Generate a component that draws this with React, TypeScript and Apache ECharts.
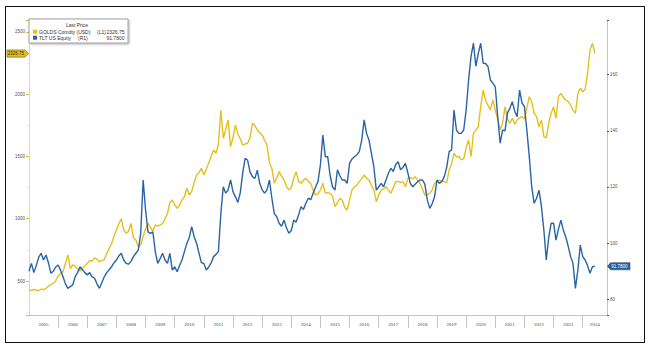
import React, { useEffect, useRef } from 'react';
import * as echarts from 'echarts';

const START_YEAR = 2005;
const AXIS_MONTHS = 239; // Jan 2005 .. Nov 2024 (axis extent)
const GOLD_NAME = 'GOLDS Comdty (USD)';
const TLT_NAME = 'TLT US Equity';
const GOLD_AXIS = '(L1)';
const TLT_AXIS = '(R1)';
const GOLD_LAST = 2326.75;
const TLT_LAST = 91.78;
const GOLD_LAST_LABEL = '2326.75';
const TLT_LAST_LABEL = '91.7800';
const LEGEND_TITLE = 'Last Price';

// Monthly gold price (USD), Jan 2005 .. Jun 2024
const GOLD = [
  428, 425, 432, 427, 422, 435, 430, 440, 460, 470, 482, 500,
  540, 560, 575, 640, 709, 600, 630, 620, 595, 580, 600, 625,
  640, 665, 660, 685, 675, 655, 665, 670, 720, 763, 800, 860,
  910, 960, 1000, 910, 883, 900, 963, 850, 830, 775, 789, 860,
  920, 963, 930, 900, 950, 940, 950, 960, 1000, 1040, 1130, 1150,
  1110, 1084, 1110, 1150, 1177, 1245, 1190, 1220, 1290, 1351, 1370, 1405,
  1351, 1400, 1445, 1500, 1552, 1526, 1600, 1873, 1646, 1720, 1793, 1579,
  1650, 1753, 1680, 1640, 1592, 1600, 1606, 1650, 1767, 1750, 1713, 1690,
  1673, 1630, 1592, 1450, 1405, 1285, 1330, 1378, 1340, 1311, 1260, 1231,
  1250, 1325, 1378, 1300, 1285, 1310, 1325, 1300, 1285, 1230, 1190, 1200,
  1231, 1285, 1204, 1210, 1204, 1180, 1097, 1130, 1164, 1150, 1090, 1070,
  1151, 1230, 1257, 1270, 1298, 1320, 1351, 1325, 1311, 1270, 1231, 1137,
  1190, 1231, 1240, 1257, 1230, 1204, 1250, 1298, 1300, 1290, 1298, 1257,
  1325, 1330, 1320, 1338, 1310, 1285, 1240, 1191, 1195, 1204, 1230, 1285,
  1300, 1311, 1300, 1298, 1290, 1392, 1440, 1526, 1498, 1500, 1472, 1480,
  1570, 1633, 1498, 1686, 1710, 1739, 1900, 2034, 1950, 1910, 1873, 1954,
  1870, 1800, 1713, 1767, 1900, 1800, 1767, 1807, 1760, 1793, 1810, 1820,
  1800, 1890, 1980, 1940, 1847, 1820, 1739, 1793, 1659, 1650, 1767, 1847,
  1900, 1807, 1980, 2007, 1975, 1954, 1940, 1914, 1870, 1847, 2007, 2048,
  2020, 2040, 2168, 2355, 2409, 2326.75,
];

// Monthly TLT price, Jan 2005 .. Jun 2024
const TLT = [
  90, 92.8, 89.5, 92, 95, 96.4, 94, 95.8, 93, 89.3, 90, 91.5,
  92.2, 90.4, 88, 85.5, 83.9, 84.5, 85.1, 88, 89.5, 91.6, 90.5, 89.5,
  88.7, 89.5, 88, 87.5, 85.5, 83.9, 86, 88, 89.5, 90.5, 91.6, 93,
  94, 95.5, 96.4, 94, 92.8, 92.5, 93.5, 95.2, 96.4, 97.5, 103.5, 122.5,
  111.8, 104, 103.5, 104, 97, 92.8, 94.5, 96.4, 94, 92.8, 96.4, 90.4,
  91.6, 89.8, 92, 94, 97, 99.9, 102, 105.9, 102.3, 100, 96.4, 93,
  92.8, 90.4, 91.5, 93, 95.2, 96, 97, 110.6, 120.1, 117.8, 119, 122.5,
  118.3, 116.5, 114.5, 118, 125, 130.2, 129.6, 125.4, 123.7, 123, 126, 121.3,
  119, 117.8, 119, 122.5, 116, 110.5, 109.4, 107.1, 106, 108.2, 105.5, 103.5,
  104.5, 108.2, 107.5, 110, 113, 112, 114.2, 116, 115.5, 117.8, 120, 121.9,
  128, 138.5, 130.8, 130.8, 124, 120, 118.9, 126.1, 124, 122.5, 122.5, 121.3,
  128.4, 130, 130.8, 131.5, 132.6, 136.7, 143.9, 139.1, 136.7, 132, 127.2, 118.9,
  120, 121.3, 120.1, 122.5, 124.9, 126.7, 125.5, 128, 129, 126.1, 127, 128.4,
  125, 121.3, 120.1, 121, 121.9, 122.5, 122.5, 121, 115.4, 112.4, 114, 116.5,
  122.5, 121.3, 122, 123.7, 127, 132.6, 133.2, 147.4, 140.3, 139.1, 139.1, 140.3,
  147.4, 158, 166.4, 171.2, 163, 167.6, 171.2, 164.1, 164, 162.9, 158.1, 157,
  155.7, 145, 135.6, 140.3, 140, 146.3, 148, 150.4, 147, 145, 154.5, 150,
  148.6, 140.3, 130.8, 120.1, 114.2, 116, 118.9, 113, 104.7, 94, 102, 107.1,
  107.1, 101.1, 105, 108.2, 104.7, 102.3, 99, 95.2, 92.8, 83.9, 90.4, 99.3,
  95.2, 94, 92, 89.3, 91.6, 91.78,
];

const MONTHS = Array.from({ length: AXIS_MONTHS }, (_, i) =>
  `${START_YEAR + Math.floor(i / 12)}-${String((i % 12) + 1).padStart(2, '0')}`
);

const GOLD_COLOR = '#e4c01e';
const TLT_COLOR = '#2964a6';
const FONT = 'Liberation Sans';

export default function App() {
  const ref = useRef<HTMLDivElement>(null);
  useEffect(() => {
    if (!ref.current) return;
    const chart = echarts.init(ref.current, undefined, { renderer: 'svg' });
    chart.setOption({
      animation: false,
      backgroundColor: '#ffffff',
      grid: { left: 29, top: 20, width: 578, height: 295, outerBoundsMode: 'none' },
      xAxis: {
        type: 'category',
        data: MONTHS,
        boundaryGap: false,
        axisLine: { show: true, lineStyle: { color: '#b9c6d3', width: 1 } },
        axisTick: {
          show: true,
          length: 13,
          interval: (i: number) => i % 12 === 0 && i > 0,
          lineStyle: { color: '#c4c4c4', width: 1 },
        },
        axisLabel: {
          interval: (i: number, v: string) =>
            (v.endsWith('-07') && !v.startsWith('2024')) || v === '2024-06',
          formatter: (v: string) => v.slice(0, 4),
          fontFamily: 'Liberation Serif',
          fontSize: 5,
          color: '#444',
          margin: 7,
        },
        splitLine: { show: false },
      },
      yAxis: [
        {
          type: 'value',
          position: 'left',
          min: 227,
          max: 2596,
          axisLine: { show: true, lineStyle: { color: '#eedb86', width: 1 } },
          axisTick: { show: true, length: 3, lineStyle: { color: '#e2c22a' } },
          minorTick: { show: true, splitNumber: 2, length: 2, lineStyle: { color: '#f2e8bb' } },
          axisLabel: {
            fontFamily: FONT,
            fontSize: 4.5,
            color: '#555',
            margin: 4,
            formatter: (v: number) => (v % 500 === 0 ? String(v) : ''),
          },
          splitLine: { show: false },
        },
        {
          type: 'value',
          position: 'right',
          min: 74.41,
          max: 179.48,
          axisLine: { show: true, lineStyle: { color: '#b3c7dc', width: 1 } },
          axisTick: { show: true, length: 2, lineStyle: { color: '#2964a6' } },
          axisLabel: {
            fontFamily: FONT,
            fontSize: 4.5,
            color: '#555',
            margin: 3,
            formatter: (v: number) => (Math.abs(v % 20) < 1e-6 ? String(v) : ''),
          },
          splitLine: { show: false },
        },
      ],
      series: [
        {
          type: 'line',
          name: GOLD_NAME,
          yAxisIndex: 0,
          data: GOLD,
          showSymbol: false,
          lineStyle: { color: GOLD_COLOR, width: 1.4 },
          itemStyle: { color: GOLD_COLOR },
        },
        {
          type: 'line',
          name: TLT_NAME,
          yAxisIndex: 1,
          data: TLT,
          showSymbol: false,
          lineStyle: { color: TLT_COLOR, width: 1.4 },
          itemStyle: { color: TLT_COLOR },
        },
      ],
    });

    const gy = chart.convertToPixel({ yAxisIndex: 0 }, GOLD_LAST) as number;
    const ty = chart.convertToPixel({ yAxisIndex: 1 }, TLT_LAST) as number;
    const txt = (x: number, y: number, text: string, align: string, fill = '#333', size = 5) => ({
      type: 'text',
      x,
      y,
      style: { text, fill, fontSize: size, fontFamily: FONT, align, verticalAlign: 'middle' },
      z: 20,
    });
    chart.setOption({
      graphic: [
        {
          type: 'rect',
          shape: { x: 29, y: 19, width: 99, height: 24 },
          style: {
            fill: '#ffffff',
            stroke: '#8c8c8c',
            lineWidth: 0.8,
            shadowBlur: 2,
            shadowColor: 'rgba(0,0,0,0.3)',
            shadowOffsetX: 1,
            shadowOffsetY: 1,
          },
          z: 10,
        },
        txt(77, 25.3, LEGEND_TITLE, 'center'),
        { type: 'rect', shape: { x: 33, y: 29.7, width: 4, height: 4 }, style: { fill: GOLD_COLOR }, z: 20 },
        txt(39, 31.7, GOLD_NAME, 'left'),
        txt(97, 31.7, GOLD_AXIS, 'left'),
        txt(124.5, 31.7, GOLD_LAST_LABEL, 'right'),
        { type: 'rect', shape: { x: 33, y: 35.7, width: 4, height: 4 }, style: { fill: TLT_COLOR }, z: 20 },
        txt(39, 37.7, TLT_NAME, 'left'),
        txt(78, 37.7, TLT_AXIS, 'left'),
        txt(124.5, 37.7, TLT_LAST_LABEL, 'right'),
        {
          type: 'polygon',
          shape: { points: [[7, gy - 3.6], [25, gy - 3.6], [28.5, gy], [25, gy + 3.6], [7, gy + 3.6]] },
          style: { fill: GOLD_COLOR, stroke: '#6e5f10', lineWidth: 0.6 },
          z: 20,
        },
        txt(16, gy, GOLD_LAST_LABEL, 'center', '#222', 4.5),
        {
          type: 'polygon',
          shape: { points: [[607.5, ty], [610.5, ty - 3.6], [630, ty - 3.6], [630, ty + 3.6], [610.5, ty + 3.6]] },
          style: { fill: '#2a5f9e', stroke: '#1d416c', lineWidth: 0.5 },
          z: 20,
        },
        txt(619.5, ty, TLT_LAST_LABEL, 'center', '#ffffff', 4.5),
      ],
    });

    return () => chart.dispose();
  }, []);

  return (
    <div style={{ position: 'absolute', left: 0, top: 0, width: 651, height: 348, background: '#fff' }}>
      <div ref={ref} style={{ position: 'absolute', left: 0, top: 0, width: 651, height: 348 }} />
      <div
        style={{
          position: 'absolute',
          left: 5,
          top: 6,
          width: 640,
          height: 337,
          border: '1.5px solid #111',
          boxSizing: 'border-box',
          pointerEvents: 'none',
        }}
      />
    </div>
  );
}
